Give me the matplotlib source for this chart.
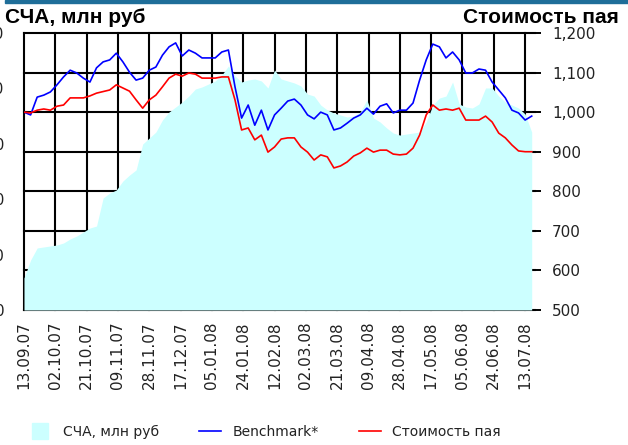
import matplotlib
matplotlib.use('Agg')
import matplotlib.pyplot as plt
import matplotlib.dates as mdates
from matplotlib.lines import Line2D
from matplotlib.patches import Rectangle
from matplotlib.ticker import FuncFormatter
import pandas as pd

# values, one point every 4 days
dates = pd.date_range('2007-09-13', '2008-07-18', freq='4D')

benchmark = [1000, 993, 1038, 1043, 1051, 1069, 1089, 1106, 1099, 1086,
             1076, 1112, 1127, 1132, 1149, 1127, 1101, 1081, 1086, 1106,
             1114, 1144, 1165, 1175, 1142, 1157, 1149, 1137, 1137, 1137,
             1152, 1157, 1064, 985, 1018, 967, 1005, 955, 993, 1010,
             1028, 1033, 1018, 993, 983, 1000, 993, 955, 960, 972,
             985, 993, 1010, 995, 1015, 1021, 998, 1005, 1005, 1023,
             1081, 1132, 1172, 1165, 1137, 1152, 1132, 1099, 1099, 1109,
             1106, 1076, 1056, 1036, 1005, 998, 980, 990]

unit_price = [1000, 998, 1005, 1008, 1005, 1015, 1018, 1036, 1036, 1036,
              1041, 1048, 1052, 1056, 1069, 1061, 1053, 1031, 1010, 1031,
              1043, 1064, 1086, 1096, 1091, 1099, 1096, 1086, 1086, 1086,
              1089, 1089, 1031, 955, 960, 930, 942, 899, 912, 932,
              935, 935, 912, 899, 879, 892, 887, 859, 864, 874,
              889, 897, 909, 899, 904, 904, 894, 892, 894, 909,
              942, 993, 1018, 1005, 1008, 1005, 1010, 980, 980, 980,
              990, 975, 947, 935, 917, 902, 900, 900]

nav = [289, 451, 560, 569, 578, 587, 605, 641, 668, 704,
       740, 758, 1011, 1056, 1083, 1164, 1218, 1264, 1498, 1552,
       1606, 1715, 1787, 1832, 1877, 1931, 1995, 2013, 2040, 2067,
       2121, 2202, 2112, 2058, 2076, 2085, 2067, 2004, 2166, 2085,
       2067, 2049, 2022, 1949, 1931, 1850, 1805, 1778, 1760, 1742,
       1751, 1787, 1895, 1733, 1697, 1643, 1597, 1579, 1588, 1597,
       1606, 1697, 1850, 1913, 1931, 2058, 1859, 1832, 1823, 1859,
       2004, 2004, 1931, 1877, 1850, 1823, 1769, 1606]

tick_dates = pd.date_range('2007-09-13', '2008-07-13', freq='19D')
price_ticks = list(range(500, 1201, 100))
nav_ticks = list(range(0, 2501, 500))

area_color = '#ccffff'
fmt = FuncFormatter(lambda v, p: '{:,.0f}'.format(v))

fig = plt.figure(figsize=(6.28, 4.45), dpi=100)
ax = fig.add_axes([24 / 628, 1 - 310 / 445, 511 / 628, 277 / 445])
ax_l = ax.twinx()
ax_top = ax.twinx()

# grid layer (right scale)
ax.set_xlim(pd.Timestamp('2007-09-13'), pd.Timestamp('2008-07-19'))
ax.set_ylim(500, 1200)
ax.set_yticks(price_ticks)
ax.yaxis.set_major_formatter(fmt)
ax.set_xticks(tick_dates)
ax.xaxis.set_major_formatter(mdates.DateFormatter('%d.%m.%y'))
ax.grid(True, color='black', linewidth=1.5)
for gl in ax.get_xgridlines() + ax.get_ygridlines():
    gl.set_clip_on(False)
ax.tick_params(axis='x', length=0, pad=8, labelsize=11, labelrotation=90,
               colors='#222222')
ax.tick_params(axis='y', length=4.3, width=1.4, pad=8, labelsize=11,
               colors='black', labelcolor='#222222')

# area layer (left scale), its labels run off the left edge as in the original
ax_l.fill_between(dates, nav, 0, color=area_color, linewidth=0)
ax_l.set_ylim(0, 2500)
ax_l.set_yticks(nav_ticks)
ax_l.yaxis.set_major_formatter(fmt)
ax_l.yaxis.tick_left()
ax_l.tick_params(axis='y', length=0, pad=14, labelsize=11, labelcolor='#222222')

# lines layer (right scale)
ax_top.plot(dates, benchmark, color='#0000ff', linewidth=1.2)
ax_top.plot(dates, unit_price, color='#ff0000', linewidth=1.2)
ax_top.set_ylim(500, 1200)
ax_top.yaxis.set_visible(False)

# twinx moved the ticks of ax to the left, put them back
ax.yaxis.tick_right()
for a in (ax, ax_l, ax_top):
    for s in a.spines.values():
        s.set_visible(False)

# titles and top bar
fig.patches.append(Rectangle((5 / 628, 1 - 3 / 445), 1, 3 / 445,
                             transform=fig.transFigure, color='#1f6e99'))
fig.text(5 / 628, 1 - 23 / 445, 'СЧА, млн руб', ha='left', va='baseline',
         fontsize=15, fontweight='bold', family='Liberation Sans')
fig.text(619 / 628, 1 - 23 / 445, 'Стоимость пая', ha='right', va='baseline',
         fontsize=15, fontweight='bold', family='Liberation Sans')

handles = [Line2D([], [], marker='s', markersize=11, color=area_color, linestyle='none'),
           Line2D([], [], color='#0000ff', linewidth=1.2),
           Line2D([], [], color='#ff0000', linewidth=1.2)]
labels = ['СЧА, млн руб', 'Benchmark*', 'Стоимость пая']
fig.legend(handles, labels, loc='center', bbox_to_anchor=(265 / 628, 1 - 432 / 445),
           ncol=3, frameon=False, fontsize=10, handlelength=1.6,
           handletextpad=0.8, columnspacing=2.9, labelcolor='#222222')

fig.savefig('out.png', dpi=100)
